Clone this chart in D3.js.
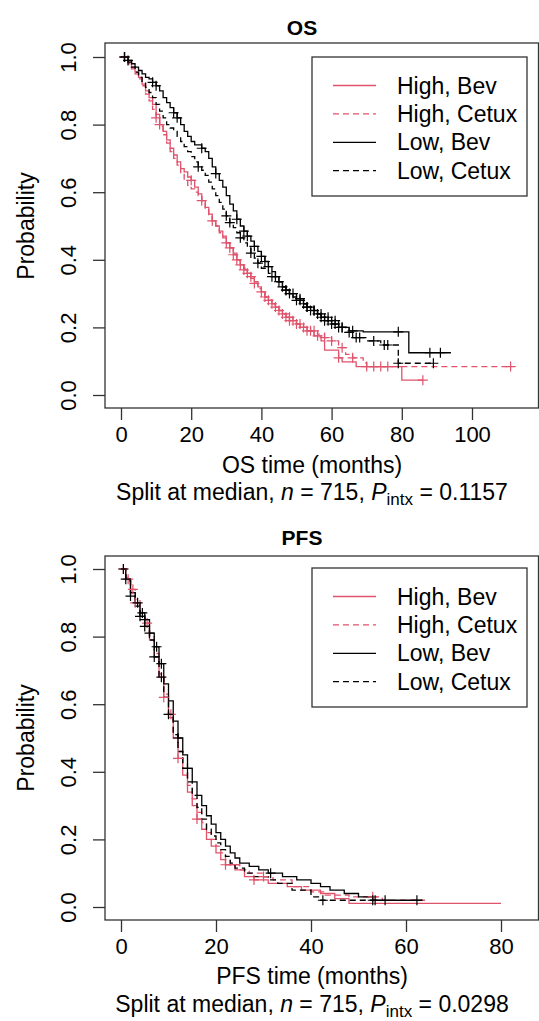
<!DOCTYPE html>
<html><head><meta charset="utf-8">
<script src="https://cdn.jsdelivr.net/npm/d3@7"></script>
<style>body{margin:0;background:#fff}svg{display:block}text{font-family:"Liberation Sans",Arial,sans-serif;fill:#000}</style>
</head><body><svg id="c" width="539" height="1021"></svg>
<script>
const seriesNames = ["High, Bev", "High, Cetux", "Low, Bev", "Low, Cetux"];
const seriesColors = ["#DF536B", "#DF536B", "#000000", "#000000"];
const seriesDash = [null, "6,4", null, "6,4"];
const yTicks = [0, 0.2, 0.4, 0.6, 0.8, 1.0];
const osXTicks = [0, 20, 40, 60, 80, 100];
const pfsXTicks = [0, 20, 40, 60, 80];

// OS steps: [time, survival]
const osHighBev = [[0,1],[2,0.985],[3,0.97],[4,0.955],[5,0.94],[6,0.92],[7,0.9],[8,0.88],[9,0.86],[10,0.83],[11,0.8],[12,0.78],[13,0.755],[14,0.73],[15,0.71],[16,0.69],[17,0.67],[18,0.66],[19,0.645],[20,0.635],[21,0.615],[22,0.595],[23,0.575],[24,0.555],[25,0.535],[26,0.515],[27,0.5],[28,0.485],[29,0.47],[30,0.45],[31,0.435],[32,0.42],[33,0.4],[34,0.385],[35,0.37],[36,0.36],[37,0.35],[38,0.335],[39,0.32],[40,0.305],[41,0.29],[42,0.28],[43,0.27],[44,0.26],[45,0.25],[46,0.24],[47,0.23],[48,0.22],[50,0.21],[51,0.2],[53,0.19],[55,0.175],[57,0.16],[58,0.133],[62,0.11],[63,0.098],[67,0.084],[80,0.044],[86,0.044]];
const osHighCetux = [[0,1],[2,0.98],[3,0.965],[4,0.95],[5,0.935],[6,0.915],[7,0.89],[8,0.87],[9,0.845],[10,0.82],[11,0.795],[12,0.77],[13,0.745],[14,0.72],[15,0.7],[16,0.68],[17,0.655],[18,0.635],[19,0.62],[20,0.61],[21,0.6],[22,0.59],[23,0.57],[24,0.55],[25,0.53],[26,0.515],[27,0.5],[28,0.48],[29,0.465],[30,0.45],[31,0.435],[32,0.415],[33,0.4],[34,0.385],[35,0.375],[36,0.36],[37,0.345],[38,0.33],[39,0.315],[40,0.3],[41,0.29],[42,0.28],[43,0.27],[44,0.26],[45,0.25],[46,0.24],[48,0.23],[49,0.22],[50,0.21],[52,0.2],[54,0.19],[56,0.18],[58,0.17],[60,0.16],[62,0.14],[64,0.12],[66,0.11],[69,0.095],[70,0.084],[111,0.084]];
const osLowBev = [[0,1],[2,0.99],[3,0.98],[4,0.97],[5,0.96],[6,0.95],[7,0.94],[8,0.935],[9,0.925],[10,0.915],[11,0.9],[12,0.88],[13,0.865],[14,0.85],[15,0.835],[16,0.82],[17,0.8],[18,0.78],[19,0.765],[20,0.75],[21,0.74],[23,0.73],[24,0.72],[25,0.7],[26,0.675],[27,0.655],[28,0.635],[29,0.615],[30,0.59],[31,0.565],[32,0.545],[33,0.52],[34,0.5],[35,0.485],[36,0.47],[37,0.455],[38,0.44],[39,0.425],[40,0.41],[41,0.395],[42,0.38],[43,0.365],[44,0.35],[45,0.335],[46,0.32],[47,0.31],[48,0.3],[49,0.29],[50,0.28],[52,0.27],[53,0.26],[54,0.25],[56,0.24],[57,0.23],[58,0.22],[60,0.21],[62,0.2],[65,0.19],[69,0.187],[82,0.125],[94,0.125]];
const osLowCetux = [[0,1],[2,0.985],[3,0.97],[4,0.955],[5,0.94],[6,0.925],[7,0.91],[8,0.895],[9,0.88],[10,0.86],[11,0.84],[12,0.82],[13,0.8],[14,0.79],[15,0.78],[16,0.765],[17,0.75],[18,0.735],[19,0.72],[20,0.705],[21,0.69],[22,0.675],[23,0.665],[24,0.65],[25,0.63],[26,0.61],[27,0.59],[28,0.57],[29,0.55],[30,0.53],[31,0.51],[32,0.495],[33,0.48],[34,0.465],[35,0.45],[36,0.435],[37,0.42],[38,0.405],[39,0.39],[40,0.375],[42,0.36],[43,0.35],[44,0.335],[46,0.32],[47,0.31],[48,0.3],[50,0.285],[52,0.27],[53,0.26],[55,0.25],[56,0.24],[58,0.23],[60,0.22],[62,0.2],[64,0.185],[66,0.17],[70,0.16],[74,0.148],[79,0.094],[89,0.094]];

const osHighBevCens = [1,11,20,23,33,34,35,36,37,40,42,44,46,47,48,49,50,52,53,54,56,62,86];
const osHighCetuxCens = [1,10,26,30,31,32,38,41,43,45,48,51,55,58,60,63,66,70,72,74,76,111];
const osLowBevCens = [1,2,9,10,15,16,23,27,33,35,36,38,40,41,42,44,45,46,47,48,50,51,52,53,54,55,56,57,58,59,60,61,62,63,66,79,88,91];
const osLowCetuxCens = [1,22,30,31,34,37,39,43,47,49,51,53,55,57,59,61,63,65,67,68,72,75,76,79,89];

// PFS steps
const pfsHighBev = [[0,1],[1,0.97],[2,0.93],[3,0.9],[4,0.86],[5,0.83],[6,0.79],[7,0.74],[8,0.68],[9,0.62],[10,0.56],[11,0.5],[12,0.44],[13,0.39],[14,0.34],[15,0.3],[16,0.26],[17,0.23],[18,0.2],[19,0.18],[20,0.16],[21,0.14],[22,0.125],[24,0.11],[26,0.09],[28,0.08],[31,0.07],[35,0.06],[38,0.05],[42,0.04],[45,0.025],[48,0.011],[80,0.011]];
const pfsHighCetux = [[0,1],[1,0.975],[2,0.94],[3,0.91],[4,0.87],[5,0.84],[6,0.8],[7,0.75],[8,0.69],[9,0.63],[10,0.57],[11,0.51],[12,0.46],[13,0.41],[14,0.36],[15,0.32],[16,0.28],[17,0.25],[18,0.22],[19,0.2],[20,0.18],[21,0.16],[22,0.14],[23,0.125],[25,0.11],[27,0.1],[30,0.09],[32,0.08],[36,0.06],[40,0.045],[43,0.035],[48,0.03],[55,0.02],[64,0.02]];
const pfsLowBev = [[0,1],[1,0.97],[2,0.93],[3,0.9],[4,0.87],[5,0.85],[6,0.81],[7,0.77],[8,0.72],[9,0.66],[10,0.61],[11,0.55],[12,0.5],[13,0.45],[14,0.41],[15,0.37],[16,0.33],[17,0.3],[18,0.27],[19,0.245],[20,0.22],[21,0.2],[22,0.18],[23,0.16],[24,0.145],[25,0.13],[27,0.12],[29,0.11],[31,0.1],[34,0.09],[37,0.08],[40,0.07],[42,0.06],[44,0.05],[47,0.04],[50,0.03],[53,0.02],[63.5,0.02]];
const pfsLowCetux = [[0,1],[1,0.965],[2,0.92],[3,0.89],[4,0.86],[5,0.83],[6,0.79],[7,0.74],[8,0.68],[9,0.62],[10,0.57],[11,0.51],[12,0.46],[13,0.41],[14,0.37],[15,0.33],[16,0.295],[17,0.26],[18,0.23],[19,0.21],[20,0.19],[21,0.17],[22,0.15],[23,0.13],[24,0.115],[26,0.1],[28,0.09],[31,0.08],[33,0.07],[36,0.05],[40,0.03],[42,0.02],[54,0.02]];

const pfsHighBevCens = [1.5,3,9,12,16,22,28];
const pfsHighCetuxCens = [0.5,2.5,5.5,10.5,30,53];
const pfsLowBevCens = [1,3.5,4.5,5,6,7.5,8.5,12,14,31.5,53.5,55.6,62.3];
const pfsLowCetuxCens = [0.5,2,4,5,7,8.5,10,42.5,53];

const svg = d3.select("#c");
const FT = 22;   // tick labels
const FL = 23;   // labels, legend, subtitle

function survAt(steps, t){ let s = steps[0][1]; for (const p of steps){ if (p[0] <= t) s = p[1]; } return s; }

function panel(cfg){
  const g = svg.append("g");
  const x = d3.scaleLinear().domain(cfg.xDomain).range(cfg.xRange);
  const y = d3.scaleLinear().domain([0,1]).range(cfg.yRange);
  const [bx0,by0,bx1,by1] = cfg.box;
  g.append("rect").attr("x",bx0).attr("y",by0).attr("width",bx1-bx0).attr("height",by1-by0)
    .attr("fill","none").attr("stroke","#333").attr("stroke-width",1.3);
  // y axis
  const ya = g.append("g").attr("transform",`translate(${bx0},0)`)
    .call(d3.axisLeft(y).tickValues(yTicks).tickFormat(d3.format(".1f")).tickSize(12));
  ya.select(".domain").remove();
  ya.selectAll("line").attr("stroke","#333").attr("stroke-width",1.3);
  ya.selectAll("text").attr("font-size",FT).attr("text-anchor","middle")
    .attr("x",0).attr("y",0).attr("dy",0).attr("transform","translate(-29,0) rotate(-90)");
  // x axis
  const xa = g.append("g").attr("transform",`translate(0,${by1})`)
    .call(d3.axisBottom(x).tickValues(cfg.xTicks).tickSize(12).tickPadding(6));
  xa.select(".domain").remove();
  xa.selectAll("line").attr("stroke","#333").attr("stroke-width",1.3);
  xa.selectAll("text").attr("font-size",FT);
  // curves
  const line = d3.line().x(d=>x(d[0])).y(d=>y(d[1])).curve(d3.curveStepAfter);
  cfg.curves.forEach((c,i)=>{
    g.append("path").datum(c).attr("d",line).attr("fill","none")
      .attr("stroke",seriesColors[i]).attr("stroke-width",1.3)
      .attr("stroke-dasharray",seriesDash[i]);
  });
  cfg.cens.forEach((cs,i)=>{
    const steps = cfg.curves[i];
    g.append("g").selectAll("path").data(cs).join("path")
      .attr("d",t=>{const cx=x(t), cy=y(survAt(steps,t)); return `M${cx-5},${cy}H${cx+5}M${cx},${cy-5}V${cy+5}`;})
      .attr("stroke",seriesColors[i]).attr("stroke-width",1.2);
  });
  // title
  g.append("text").attr("x",cfg.titleX).attr("y",cfg.titleY).attr("text-anchor","middle")
    .attr("font-size",21).attr("font-weight","bold").text(cfg.title);
  // y label
  g.append("text").attr("transform",`translate(${cfg.ylabX},${(y(0)+y(1))/2}) rotate(-90)`)
    .attr("text-anchor","middle").attr("font-size",FL).text("Probability");
  // x label
  g.append("text").attr("x",cfg.subX).attr("y",cfg.xlabY).attr("text-anchor","middle").attr("font-size",FL).text(cfg.xlab);
  // subtitle
  const st = g.append("text").attr("x",cfg.subX).attr("y",cfg.subY).attr("text-anchor","middle").attr("font-size",FL);
  st.append("tspan").text("Split at median, ");
  st.append("tspan").attr("font-style","italic").text("n");
  st.append("tspan").text(" = 715, ");
  st.append("tspan").attr("font-style","italic").text("P");
  st.append("tspan").attr("font-size",17).attr("dy",5).text("intx");
  st.append("tspan").attr("dy",-5).text(" = " + cfg.p);
  // legend
  const [lx0,ly0,lx1,ly1] = cfg.legend;
  g.append("rect").attr("x",lx0).attr("y",ly0).attr("width",lx1-lx0).attr("height",ly1-ly0)
    .attr("fill","#fff").attr("stroke","#333").attr("stroke-width",1.3);
  seriesNames.forEach((n,i)=>{
    const ly = ly0 + 28.5 + i*28.4;
    g.append("line").attr("x1",lx0+21).attr("x2",lx0+64).attr("y1",ly).attr("y2",ly)
      .attr("stroke",seriesColors[i]).attr("stroke-width",1.3).attr("stroke-dasharray",seriesDash[i]);
    g.append("text").attr("x",lx0+85).attr("y",ly).attr("dy","0.35em").attr("font-size",FL).text(n);
  });
}

panel({xDomain:[0,100], xRange:[121,472], yRange:[395,57], box:[105,43,538.5,408], xTicks:osXTicks,
  curves:[osHighBev,osHighCetux,osLowBev,osLowCetux], cens:[osHighBevCens,osHighCetuxCens,osLowBevCens,osLowCetuxCens],
  title:"OS", titleX:302, titleY:35, ylabX:34, xlab:"OS time (months)", xlabY:473, subX:312, subY:500, p:"0.1157",
  legend:[312,57,527,196]});
panel({xDomain:[0,80], xRange:[121,501], yRange:[907,569], box:[105,556,538.5,920], xTicks:pfsXTicks,
  curves:[pfsHighBev,pfsHighCetux,pfsLowBev,pfsLowCetux], cens:[pfsHighBevCens,pfsHighCetuxCens,pfsLowBevCens,pfsLowCetuxCens],
  title:"PFS", titleX:302, titleY:545, ylabX:34, xlab:"PFS time (months)", xlabY:984, subX:312, subY:1012, p:"0.0298",
  legend:[312,568,527,707]});
</script></body></html>
